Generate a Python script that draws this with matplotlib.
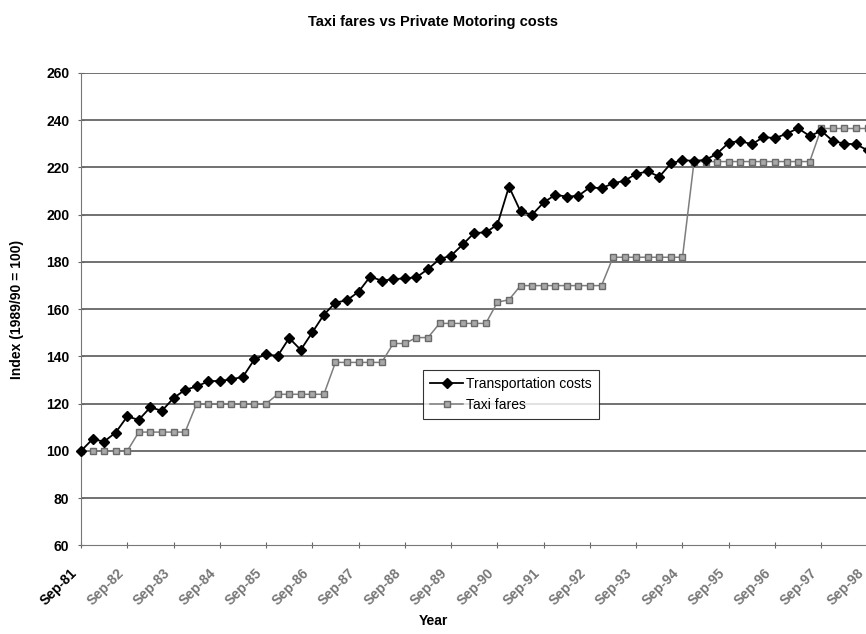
import matplotlib
matplotlib.use("Agg")
import matplotlib.pyplot as plt
import matplotlib.transforms as mtransforms
import numpy as np

plt.rcParams['font.family'] = ['Liberation Sans', 'DejaVu Sans']

# Quarterly index values, September 1981 to September 1998
transport_costs = [
    100.0, 105.0, 104.0, 107.8, 114.6, 113.2, 118.5, 117.0, 122.4, 125.9,
    127.3, 129.5, 129.7, 130.3, 131.4, 138.8, 141.0, 140.2, 147.8, 142.8,
    150.2, 157.7, 162.8, 163.8, 167.4, 173.8, 172.1, 172.7, 173.1, 173.5,
    177.0, 181.2, 182.7, 187.4, 192.3, 192.5, 195.8, 211.9, 201.4, 200.0,
    205.2, 208.4, 207.7, 208.0, 211.6, 211.2, 213.3, 214.4, 217.3, 218.3,
    216.1, 221.7, 223.1, 222.8, 223.2, 225.9, 230.5, 231.2, 229.8, 232.9,
    232.4, 234.3, 236.6, 233.3, 235.5, 231.2, 230.1, 229.8, 227.3,
]
taxi_fares = (
    [100.0] * 5 + [108.0] * 5 + [120.0] * 7 + [124.0] * 5 + [137.5] * 5 +
    [145.5] * 2 + [148.0] * 2 + [154.0] * 5 + [163.0, 164.0] + [170.0] * 8 +
    [182.0] * 7 + [222.5] * 11 + [236.5] * 5
)
year_labels = ['Sep-81', 'Sep-82', 'Sep-83', 'Sep-84', 'Sep-85', 'Sep-86',
               'Sep-87', 'Sep-88', 'Sep-89', 'Sep-90', 'Sep-91', 'Sep-92',
               'Sep-93', 'Sep-94', 'Sep-95', 'Sep-96', 'Sep-97', 'Sep-98']

quarters = np.arange(len(transport_costs))
year_ticks = np.arange(len(year_labels)) * 4

fig = plt.figure(figsize=(8.66, 6.34), dpi=100)
ax = fig.add_axes([0.0935, 0.1396, 0.9083, 0.7453])

ax.set_ylim(60, 260)
ax.set_xlim(0, 68)
ax.set_yticks(np.arange(60, 261, 20))
for y in np.arange(80, 261, 20):
    ax.axhline(y, color='#4a4a4a', lw=1.1, zorder=1)

ax.plot(quarters, transport_costs, color='black', lw=1.3, marker='D',
        markersize=4.6, markerfacecolor='black', markeredgecolor='black',
        label='Transportation costs', zorder=4, clip_on=False)
ax.plot(quarters, taxi_fares, color='#7d7d7d', lw=1.1, marker='s',
        markersize=4.6, markerfacecolor='#a8a8a8', markeredgecolor='#6a6a6a',
        label='Taxi fares', zorder=3)

for side in ('top', 'right'):
    ax.spines[side].set_visible(False)
ax.spines['left'].set_color('#777777')
ax.spines['bottom'].set_color('#777777')

ax.tick_params(axis='y', direction='inout', length=5, color='#666666',
               labelsize=10, pad=6)
ax.tick_params(axis='x', direction='inout', length=5, color='#666666',
               labelsize=10, pad=16)
for lab in ax.get_yticklabels():
    lab.set_fontweight('bold')

ax.set_xticks(year_ticks)
ax.set_xticklabels(year_labels, rotation=45, ha='right', va='center',
                   rotation_mode='anchor', fontweight='bold')
shift = mtransforms.ScaledTranslation(-6 / 100, 0, fig.dpi_scale_trans)
for k, lab in enumerate(ax.get_xticklabels()):
    lab.set_color('black' if k == 0 else '#777777')
    lab.set_transform(lab.get_transform() + shift)

ax.set_ylabel('Index (1989/90 = 100)', fontsize=10, fontweight='bold',
              labelpad=16)
fig.text(0.5, 0.02, 'Year', ha='center', va='center', fontsize=10,
         fontweight='bold')
fig.text(0.5, 0.966, 'Taxi fares vs Private Motoring costs', ha='center',
         va='center', fontsize=10.5, fontweight='bold')

leg = ax.legend(loc='upper left', bbox_to_anchor=(0.435, 0.371), fontsize=10,
                frameon=True, fancybox=False, handlelength=2.4,
                borderpad=0.5, labelspacing=0.5, handletextpad=0.2,
                borderaxespad=0)
leg.get_frame().set_edgecolor('black')
leg.get_frame().set_linewidth(0.8)
leg.set_zorder(6)

fig.savefig('out.png', dpi=100)
